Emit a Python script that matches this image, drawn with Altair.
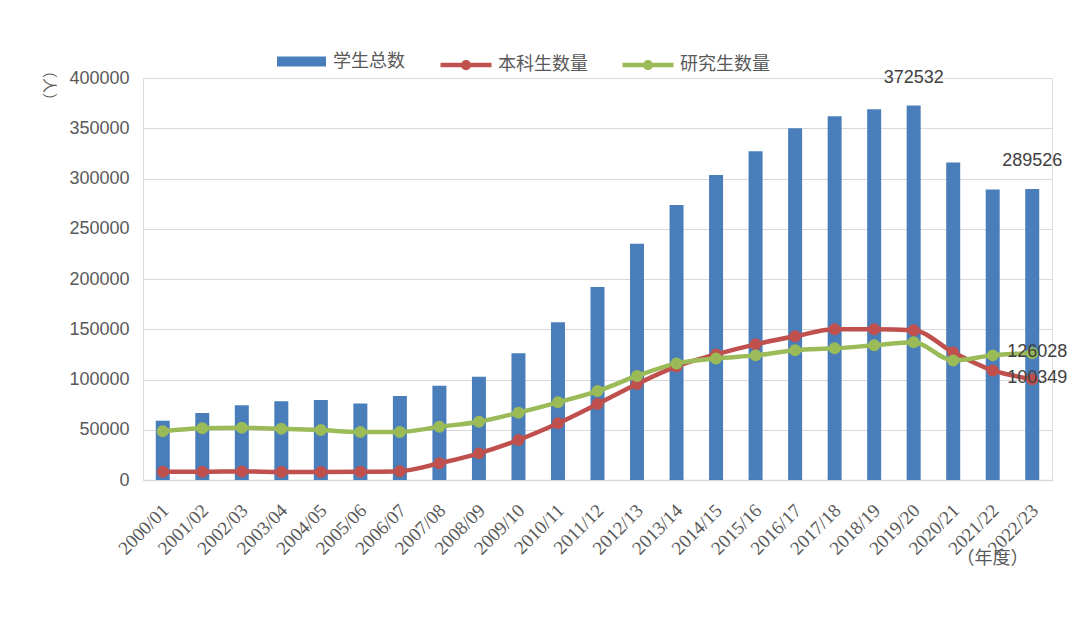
import altair as alt
import pandas as pd

years = ["2000/01", "2001/02", "2002/03", "2003/04", "2004/05", "2005/06", "2006/07",
         "2007/08", "2008/09", "2009/10", "2010/11", "2011/12", "2012/13", "2013/14",
         "2014/15", "2015/16", "2016/17", "2017/18", "2018/19", "2019/20", "2020/21",
         "2021/22", "2022/23"]
total = [59000, 66700, 74300, 78300, 79600, 76000, 83600, 93800, 102800, 126000,
         157000, 192000, 235000, 273600, 303500, 327000, 350000, 362000, 369000,
         372532, 316000, 289000, 289526]
undergrad = [8300, 8300, 8500, 8000, 8000, 8200, 8800, 16600, 26500, 39800, 56400,
             75600, 95500, 113000, 125000, 135000, 143000, 150000, 150000, 149000,
             127000, 109000, 100349]
postgrad = [48500, 51400, 52000, 51000, 49700, 47800, 47800, 53000, 58000, 67000,
            77300, 88500, 103500, 116000, 121000, 124000, 129000, 131000, 134000,
            137000, 119000, 124000, 126028]
y_ticks = [0, 50000, 100000, 150000, 200000, 250000, 300000, 350000, 400000]

bar_name = "学生总数"
line_names = ["本科生数量", "研究生数量"]

df_bar = pd.DataFrame({"year": years, "value": total, "series": bar_name})
df_line = pd.concat([
    pd.DataFrame({"year": years, "value": undergrad, "series": line_names[0]}),
    pd.DataFrame({"year": years, "value": postgrad, "series": line_names[1]}),
])
df_top = pd.DataFrame({"year": ["2019/20", "2022/23"], "value": [372532, 289526],
                       "label": ["372532", "289526"]})
df_right = pd.DataFrame({"year": ["2022/23", "2022/23"], "value": [126028, 100349],
                         "label": ["126028", "100349"]})

GRAY = "#595959"
NUM_FONT = "Liberation Sans"
CJK = "Noto Sans CJK SC"

x = alt.X("year:N", sort=years,
          scale=alt.Scale(paddingInner=0, paddingOuter=0),
          axis=alt.Axis(title="（年度）", labelAngle=-45, labelAlign="right",
                        labelBaseline="middle", labelPadding=27, labelOffset=3,
                        labelFont="Liberation Serif", labelFontSize=19,
                        labelColor=GRAY, ticks=False, domain=True,
                        domainColor="#d9d9d9", domainWidth=1.5, grid=False,
                        titleFont=CJK, titleFontSize=18, titleFontWeight="normal",
                        titleColor=GRAY, titleX=849, titleY=78,
                        titleAlign="center", titleBaseline="middle"))
y = alt.Y("value:Q",
          scale=alt.Scale(domain=[0, 400000]),
          axis=alt.Axis(title="（人）", values=y_ticks, format="d",
                        labelFont=NUM_FONT, labelFontSize=18, labelColor=GRAY,
                        labelPadding=14, ticks=False, domain=False,
                        grid=True, gridColor="#d9d9d9", gridWidth=1.2,
                        titleFont=CJK, titleFontSize=15, titleFontWeight="normal",
                        titleColor=GRAY, titleAngle=90, titleX=-95, titleY=7,
                        titleAlign="center", titleBaseline="middle"))

bars = alt.Chart(df_bar).mark_bar(size=14).encode(
    x=x, y=y,
    fill=alt.Fill("series:N",
                  scale=alt.Scale(domain=[bar_name], range=["#4a7ebb"]),
                  legend=alt.Legend(orient="none", legendX=134, legendY=-41,
                                    title=None, padding=0,
                                    symbolType="M-1,-0.2H1V0.2H-1Z",
                                    symbolSize=2400, symbolStrokeWidth=0,
                                    labelOffset=7, labelFont=CJK,
                                    labelFontSize=18, labelColor=GRAY)),
)

stroke_enc = alt.Stroke(
    "series:N",
    scale=alt.Scale(domain=line_names, range=["#c0504d", "#9bbb59"]),
    legend=alt.Legend(orient="none", direction="horizontal",
                      legendX=295, legendY=-41, title=None, padding=0,
                      symbolType="M-1,0H1M-0.11,0A0.11,0.11,0,1,1,0.11,0A0.11,0.11,0,1,1,-0.11,0",
                      symbolSize=2600, symbolStrokeWidth=4.5,
                      labelOffset=4, columnPadding=25, labelFont=CJK,
                      labelFontSize=18, labelColor=GRAY),
)

lines = alt.Chart(df_line).mark_line(strokeWidth=4.5, interpolate="monotone").encode(
    x=x, y=y, stroke=stroke_enc, detail="series:N",
)
points = alt.Chart(df_line).mark_point(size=30, strokeWidth=6.5, filled=False,
                                        opacity=1).encode(
    x=x, y=y, stroke=stroke_enc,
)

top_text = alt.Chart(df_top).mark_text(dy=-28, align="center", baseline="middle",
                                       font=NUM_FONT, fontSize=18,
                                       color="#404040").encode(
    x=x, y=y, text="label:N")
right_text = alt.Chart(df_right).mark_text(dx=-25, dy=-1, align="left",
                                           baseline="middle", font=NUM_FONT,
                                           fontSize=18, color="#404040").encode(
    x=x, y=y, text="label:N")

chart = alt.layer(bars, lines, points, top_text, right_text).properties(
    width=909, height=402,
    padding={"left": 135, "top": 70, "right": 20, "bottom": 140},
    autosize=alt.AutoSizeParams(type="none"),
).configure_view(stroke=None).configure(background="white")

chart.save("out.html", embed_options={"renderer": "svg", "actions": False})
